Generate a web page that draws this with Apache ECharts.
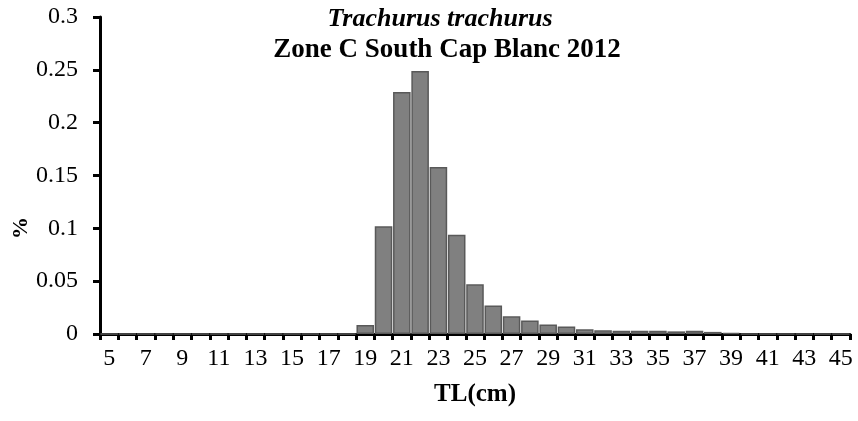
<!DOCTYPE html>
<html>
<head>
<meta charset="utf-8">
<script src="https://cdn.jsdelivr.net/npm/echarts@6/dist/echarts.min.js"></script>
<style>html,body{margin:0;padding:0;background:#fff;}#c{width:858px;height:421px;}</style>
</head>
<body>
<div id="c"></div>
<script>
const categories = [5,6,7,8,9,10,11,12,13,14,15,16,17,18,19,20,21,22,23,24,25,26,27,28,29,30,31,32,33,34,35,36,37,38,39,40,41,42,43,44,45].map(String);
const values = [0,0,0,0,0,0,0,0,0,0,0,0,0,0,0.0085,0.102,0.229,0.249,0.158,0.094,0.047,0.027,0.0167,0.0127,0.0089,0.007,0.0045,0.0036,0.003,0.003,0.003,0.0025,0.003,0.002,0.001,0,0,0,0,0,0];
const yTicks = [0,0.05,0.1,0.15,0.2,0.25,0.3];
const titleLine1 = 'Trachurus trachurus';
const titleLine2 = 'Zone C South Cap Blanc 2012';
const xName = 'TL(cm)';
const yName = '%';

const font = 'Liberation Serif, Times New Roman, serif';
const chart = echarts.init(document.getElementById('c'), null, {renderer: 'canvas'});
chart.setOption({
  animation: false,
  backgroundColor: '#fff',
  title: [
    {text: titleLine1, left: 440, top: 6, textAlign: 'center', padding: 0,
     textStyle: {fontFamily: font, fontSize: 26, lineHeight: 26, fontWeight: 'bold', fontStyle: 'italic', color: '#000'}},
    {text: titleLine2, left: 447, top: 37, textAlign: 'center', padding: 0,
     textStyle: {fontFamily: font, fontSize: 27, lineHeight: 27, fontWeight: 'bold', color: '#000'}}
  ],
  graphic: [{
    type: 'text', x: 21, y: 228, rotation: Math.PI / 2,
    style: {text: yName, fontFamily: font, fontSize: 22, fontWeight: 'bold', fill: '#000', align: 'center', verticalAlign: 'middle'}
  }],
  grid: {left: 100, right: 8, top: 17, bottom: 87, containLabel: false, outerBoundsMode: 'none'},
  xAxis: {
    type: 'category',
    data: categories,
    boundaryGap: true,
    name: xName,
    nameLocation: 'middle',
    nameGap: 48,
    nameTextStyle: {fontFamily: font, fontSize: 25, fontWeight: 'bold', color: '#000'},
    axisLine: {lineStyle: {color: '#000', width: 3}},
    axisTick: {show: true, alignWithLabel: false, interval: 0, length: 6, lineStyle: {color: '#000', width: 3}},
    axisLabel: {interval: 1, fontFamily: font, fontSize: 24, color: '#000', margin: 13},
    splitLine: {show: false}
  },
  yAxis: {
    type: 'value',
    min: 0, max: 0.3, interval: 0.05,
    axisLine: {show: true, lineStyle: {color: '#000', width: 3}},
    axisTick: {show: true, inside: false, length: 7, lineStyle: {color: '#000', width: 3}},
    axisLabel: {fontFamily: font, fontSize: 24, color: '#000', margin: 22,
      formatter: function (v) { return String(+v.toFixed(2)); }},
    splitLine: {show: false}
  },
  series: [{
    type: 'bar',
    data: values,
    barCategoryGap: '4%',
    itemStyle: {color: '#808080', borderColor: '#595959', borderWidth: 1.5}
  }]
});
</script>
</body>
</html>
